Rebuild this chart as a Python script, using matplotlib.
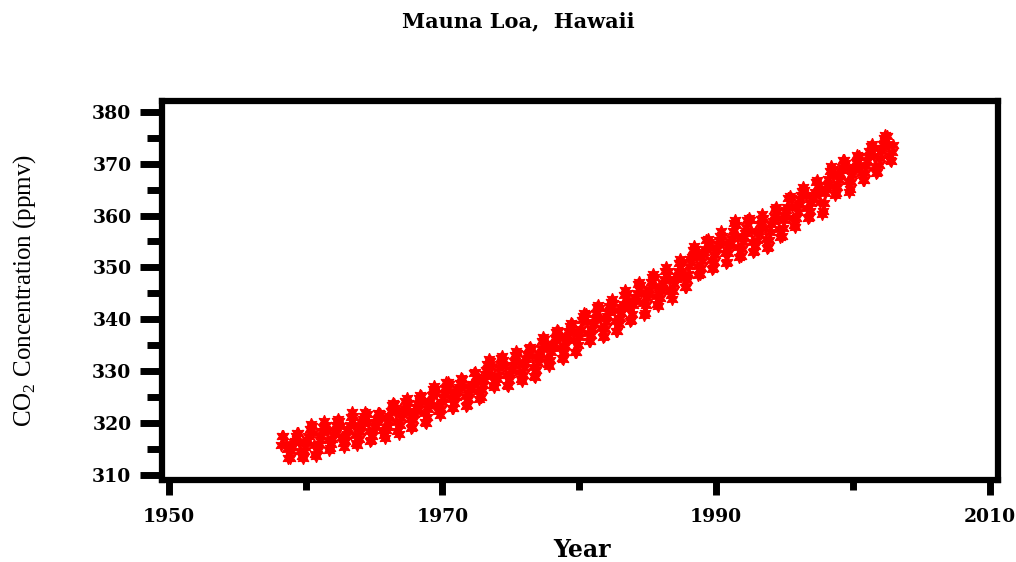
import numpy as np
import matplotlib
matplotlib.use("Agg")
import matplotlib.pyplot as plt
from matplotlib.ticker import MultipleLocator

# monthly CO2 readings (ppmv), one row per year Jan..Dec, None = no reading
years = list(range(1958, 2003))
co2_monthly = [
    [None, None, 315.71, 317.45, 317.50, None, 315.86, 314.93, 313.20, None, 313.33, 314.67],
    [315.42, 316.31, 316.50, 317.56, 318.13, 318.00, 316.39, 314.65, 313.68, 313.18, 314.66, 315.43],
    [316.27, 316.81, 317.42, 318.87, 319.87, 319.43, 318.01, 315.74, 314.00, 313.68, 314.84, 316.03],
    [316.73, 317.54, 318.38, 319.31, 320.42, 319.61, 318.42, 316.63, 314.83, 315.16, 315.94, 316.85],
    [317.78, 318.40, 319.53, 320.42, 320.85, 320.45, 319.45, 317.25, 316.11, 315.27, 316.53, 317.53],
    [318.58, 318.92, 319.70, 321.22, 322.08, 321.31, 319.58, 317.61, 316.05, 315.83, 316.91, 318.20],
    [319.41, 320.07, 320.74, 321.40, 322.06, 321.73, 320.27, 318.54, 316.54, 316.71, 317.53, 318.55],
    [319.27, 320.28, 320.73, 321.97, 322.00, 321.71, 321.05, 318.71, 317.66, 317.14, 318.70, 319.25],
    [320.46, 321.43, 322.23, 323.54, 323.91, 323.59, 322.24, 320.20, 318.48, 317.94, 319.63, 320.87],
    [322.17, 322.34, 322.88, 324.25, 324.83, 323.93, 322.38, 320.76, 319.10, 319.24, 320.56, 321.80],
    [322.40, 322.99, 323.73, 324.86, 325.40, 325.20, 323.98, 321.95, 320.18, 320.09, 321.16, 322.74],
    [323.83, 324.26, 325.47, 326.50, 327.21, 326.54, 325.72, 323.50, 322.22, 321.62, 322.69, 323.95],
    [324.89, 325.82, 326.77, 327.97, 327.91, 327.50, 326.18, 324.53, 322.93, 322.90, 323.85, 324.96],
    [326.01, 326.51, 327.01, 327.62, 328.76, 328.40, 327.20, 325.27, 323.20, 323.40, 324.63, 325.85],
    [326.60, 327.47, 327.58, 329.56, 329.90, 328.92, 327.88, 326.16, 324.68, 325.04, 326.34, 327.39],
    [328.37, 329.40, 330.14, 331.33, 332.31, 331.90, 330.70, 329.15, 327.35, 327.02, 327.99, 328.48],
    [329.18, 330.55, 331.32, 332.48, 332.92, 332.08, 331.01, 329.23, 327.27, 327.21, 328.29, 329.41],
    [330.23, 331.25, 331.87, 333.14, 333.80, 333.43, 331.73, 329.90, 328.40, 328.17, 329.32, 330.59],
    [331.58, 332.39, 333.33, 334.41, 334.71, 334.17, 332.89, 330.77, 329.14, 328.78, 330.14, 331.52],
    [332.75, 333.24, 334.53, 335.90, 336.57, 336.10, 334.76, 332.59, 331.42, 330.98, 332.24, 333.68],
    [334.80, 335.22, 336.47, 337.59, 337.84, 337.72, 336.37, 334.51, 332.60, 332.38, 333.75, 334.78],
    [336.05, 336.59, 337.79, 338.71, 339.30, 339.12, 337.56, 335.92, 333.75, 333.70, 335.12, 336.56],
    [337.84, 338.19, 339.91, 340.60, 341.29, 341.00, 339.39, 337.43, 335.72, 335.84, 336.93, 338.04],
    [339.06, 340.30, 341.21, 342.33, 342.74, 342.08, 340.32, 338.26, 336.52, 336.68, 338.19, 339.44],
    [340.57, 341.44, 342.53, 343.39, 343.96, 343.18, 341.88, 339.65, 337.81, 337.69, 339.09, 340.32],
    [341.20, 342.35, 342.93, 344.77, 345.58, 345.14, 343.81, 342.21, 339.69, 339.82, 340.98, 342.82],
    [343.52, 344.33, 345.11, 346.88, 347.25, 346.62, 345.22, 343.11, 340.90, 341.18, 342.80, 344.04],
    [344.79, 345.82, 347.25, 348.17, 348.74, 348.07, 346.38, 344.51, 342.92, 342.62, 344.06, 345.38],
    [346.11, 346.78, 347.68, 349.37, 350.03, 349.37, 347.76, 345.73, 344.68, 343.99, 345.48, 346.72],
    [347.84, 348.29, 349.23, 350.80, 351.66, 351.07, 349.33, 347.92, 346.27, 346.18, 347.64, 348.78],
    [350.25, 351.54, 352.05, 353.41, 354.04, 353.62, 352.22, 350.27, 348.55, 348.72, 349.91, 351.18],
    [352.60, 352.92, 353.53, 355.26, 355.52, 354.97, 353.75, 351.52, 349.64, 349.83, 351.14, 352.37],
    [353.50, 354.55, 355.23, 356.04, 357.00, 356.07, 354.67, 352.76, 350.82, 351.04, 352.69, 354.07],
    [354.59, 355.63, 357.03, 358.48, 359.22, 358.12, 356.06, 353.92, 352.05, 352.11, 353.64, 354.89],
    [355.88, 356.63, 357.72, 359.07, 359.58, 359.17, 356.94, 354.92, 352.94, 353.23, 354.09, 355.33],
    [356.63, 357.10, 358.32, 359.41, 360.23, 359.55, 357.53, 355.48, 353.67, 353.95, 355.30, 356.78],
    [358.34, 358.89, 359.95, 361.25, 361.67, 360.94, 359.55, 357.49, 355.84, 356.00, 357.59, 359.05],
    [359.98, 361.03, 361.66, 363.48, 363.82, 363.30, 361.94, 359.50, 358.11, 357.80, 359.61, 360.74],
    [362.09, 363.29, 364.06, 364.76, 365.45, 365.01, 363.70, 361.54, 359.51, 359.65, 360.80, 362.38],
    [363.23, 364.06, 364.61, 366.40, 366.84, 365.68, 364.52, 362.57, 360.24, 360.83, 362.49, 364.34],
    [365.18, 365.98, 367.13, 368.61, 369.49, 368.95, 367.74, 365.79, 364.01, 364.35, 365.52, 366.93],
    [367.98, 368.82, 369.46, 370.77, 370.66, 370.10, 369.10, 366.70, 364.61, 365.17, 366.51, 367.85],
    [369.07, 369.32, 370.38, 371.63, 371.32, 371.53, 369.75, 368.23, 366.87, 366.94, 368.27, 369.64],
    [370.46, 371.44, 372.37, 373.33, 373.77, 373.09, 371.51, 369.55, 368.12, 368.38, 369.66, 371.11],
    [372.36, 373.09, 373.81, 374.93, 375.58, 375.44, 373.86, 371.77, 370.73, 370.50, 372.18, 373.70],
]

x_ticks = [1950, 1970, 1990, 2010]
y_ticks = [310, 320, 330, 340, 350, 360, 370, 380]


def main() -> None:
    plt.rcParams["mathtext.fontset"] = "custom"
    plt.rcParams["mathtext.rm"] = "Liberation Serif"

    t = []
    v = []
    for yr, row in zip(years, co2_monthly):
        for m, val in enumerate(row):
            if val is not None:
                t.append(yr + (m + 0.5) / 12)
                v.append(val)

    fig = plt.figure(figsize=(10.16, 5.62), dpi=100)
    ax = fig.add_axes([0.1594, 0.1459, 0.8228, 0.6735])
    ax.plot(t, v, linestyle="none", marker=(6, 1, 0), markersize=9,
            color="red", markeredgewidth=0.8)

    ax.set_xlim(1949.5, 2010.6)
    ax.set_ylim(309.0, 382.0)
    ax.set_xticks(x_ticks)
    ax.xaxis.set_minor_locator(MultipleLocator(10))
    ax.set_yticks(y_ticks)
    ax.yaxis.set_minor_locator(MultipleLocator(5))

    for s in ax.spines.values():
        s.set_linewidth(4.5)
    ax.tick_params(axis="y", which="major", length=16, width=5, pad=6)
    ax.tick_params(axis="y", which="minor", length=11, width=5)
    ax.tick_params(axis="x", which="major", length=11, width=5, pad=9)
    ax.tick_params(axis="x", which="minor", length=7.5, width=5)

    for lab in ax.get_xticklabels() + ax.get_yticklabels():
        lab.set_fontfamily("DejaVu Serif")
        lab.set_fontweight("bold")
        lab.set_fontsize(13.5)

    ax.set_xlabel("Year", fontfamily="DejaVu Serif", fontweight="bold",
                  fontsize=17, va="center")
    ax.xaxis.set_label_coords(0.503, -0.185)
    ax.set_ylabel("CO$_\\mathregular{2}$ Concentration (ppmv)",
                  fontfamily="Liberation Serif", fontsize=18, va="center")
    ax.yaxis.set_label_coords(-0.164, 0.5)
    fig.text(0.51, 0.962, "Mauna Loa,  Hawaii", ha="center", va="center",
             fontfamily="DejaVu Serif", fontweight="bold", fontsize=15)

    fig.savefig("out.png", dpi=100)


if __name__ == "__main__":
    main()
